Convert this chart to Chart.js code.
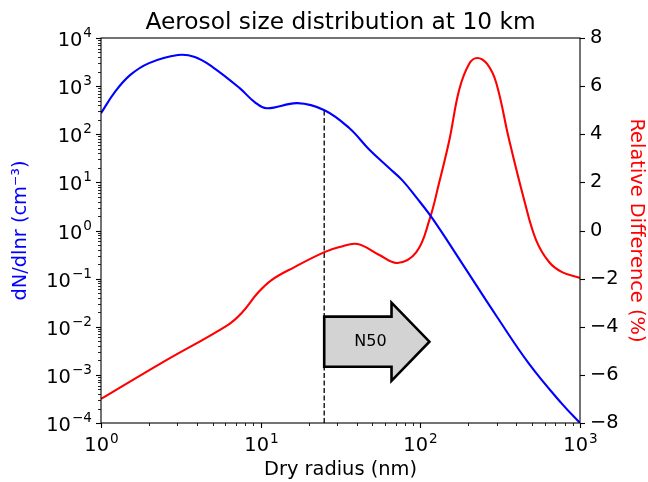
<!DOCTYPE html>
<html>
<head>
<meta charset="utf-8">
<script src="https://cdn.jsdelivr.net/npm/chart.js@4.4.1/dist/chart.umd.min.js"></script>
<style>
  body { margin: 0; background: #fff; }
  canvas { display: block; }
</style>
</head>
<body>
<canvas id="chart" width="648" height="482"></canvas>
<script>
// size distribution (blue, left log axis)
const radius_dist = [1, 1.22, 1.52, 2.0, 3.03, 3.87, 5.0, 7.39, 9.17, 10.9, 17.0, 25.1, 36.0, 48.0, 64.0, 77.2, 94.4, 119, 183, 299, 480, 772, 1000];
const dndlnr = [274, 750, 1690, 3010, 4430, 4020, 2490, 908, 466, 348, 443, 316, 133, 47.5, 19.6, 11.0, 4.87, 1.78, 0.205, 0.0169, 0.00169, 0.000249, 0.0001];

// relative difference (red, right axis)
const radius_diff = [1, 2.4, 6.22, 7.6, 9.58, 11.7, 16.3, 25.1, 31.2, 40.4, 55.4, 71.8, 94.4, 114, 131, 152, 175, 202, 227, 262, 299, 360, 447, 531, 640, 772, 1000];
const rel_diff = [-7.0, -5.5, -3.93, -3.43, -2.6, -2.06, -1.52, -0.9, -0.69, -0.56, -1.02, -1.35, -0.9, 0.44, 1.97, 3.76, 5.84, 6.92, 7.17, 6.92, 6.13, 3.76, 1.27, -0.4, -1.31, -1.73, -1.97];

// N50 cut and arrow (data units)
const n50_radius = 25;
const n50_top = 316;
const arrow_x = [25, 66, 66, 114, 66, 66, 25];
const arrow_y = [0.0162, 0.0162, 0.0316, 0.0049, 0.00075, 0.00148, 0.00148];
const arrow_label = "N50";
const arrow_label_pos = [48.7, 0.0049];

// tick labels
const x_ticks = [1, 10, 100, 1000];
const left_ticks = [1e-4, 1e-3, 1e-2, 1e-1, 1, 10, 100, 1000, 1e4];
const right_ticks = [-8, -6, -4, -2, 0, 2, 4, 6, 8];

const title_text = "Aerosol size distribution at 10 km";

const FONT = "'DejaVu Sans', sans-serif";
const FS = 19.4;       // 14pt
const FS_SUP = 13.6;   // mathtext superscript

const fixTicks = (list) => (scale) => {
    scale.ticks = list.map((v) => ({ value: v }));
};

// draws "10^e" like matplotlib mathtext
function drawPow(ctx, v, x, baseline, align) {
    const e = Math.round(Math.log10(v));
    const exp = e < 0 ? "\u2212" + Math.abs(e) : String(e);
    ctx.font = FS + "px " + FONT;
    const w1 = ctx.measureText("10").width;
    ctx.font = FS_SUP + "px " + FONT;
    const w2 = ctx.measureText(exp).width;
    const w = w1 + w2 + 1;
    let x0 = align === "center" ? x - w / 2 : x - w;
    ctx.textAlign = "left";
    ctx.textBaseline = "alphabetic";
    ctx.font = FS + "px " + FONT;
    ctx.fillText("10", x0, baseline);
    ctx.font = FS_SUP + "px " + FONT;
    ctx.fillText(exp, x0 + w1 + 1, baseline - 8.5);
}

// frame, ticks, log tick labels, title
const framePlugin = {
    id: "frame",
    afterDraw(chart) {
        const { ctx, chartArea: a, scales } = chart;
        ctx.save();
        ctx.strokeStyle = "#000";
        ctx.fillStyle = "#000";
        ctx.lineWidth = 1.1;
        ctx.strokeRect(a.left, a.top, a.right - a.left, a.bottom - a.top);

        const line = (x1, y1, x2, y2, w) => {
            ctx.lineWidth = w;
            ctx.beginPath();
            ctx.moveTo(x1, y1);
            ctx.lineTo(x2, y2);
            ctx.stroke();
        };

        // x axis ticks
        for (let e = 0; e < 3; e++) {
            for (let m = 2; m < 10; m++) {
                const px = Math.round(scales.x.getPixelForValue(m * Math.pow(10, e))) + 0.5;
                line(px, a.bottom, px, a.bottom + 3, 0.85);
            }
        }
        x_ticks.forEach((v) => {
            const px = Math.round(scales.x.getPixelForValue(v)) + 0.5;
            line(px, a.bottom, px, a.bottom + 5, 1.1);
            drawPow(ctx, v, px, a.bottom + 28, "center");
        });

        // left log axis ticks
        for (let e = -4; e < 4; e++) {
            for (let m = 2; m < 10; m++) {
                const py = Math.round(scales.y.getPixelForValue(m * Math.pow(10, e))) + 0.5;
                line(a.left, py, a.left - 3, py, 0.85);
            }
        }
        left_ticks.forEach((v) => {
            const py = Math.round(scales.y.getPixelForValue(v)) + 0.5;
            line(a.left, py, a.left - 5, py, 1.1);
            drawPow(ctx, v, a.left - 9, py + 7, "right");
        });

        // right linear axis ticks
        right_ticks.forEach((v) => {
            const py = Math.round(scales.y1.getPixelForValue(v)) + 0.5;
            line(a.right, py, a.right + 5, py, 1.1);
        });

        // title centred over the axes
        ctx.font = "23.3px " + FONT;
        ctx.textAlign = "center";
        ctx.textBaseline = "alphabetic";
        ctx.fillText(title_text, (a.left + a.right) / 2, 29);
        ctx.restore();
    },
};

// N50 arrow
const arrowPlugin = {
    id: "arrow",
    afterDatasetsDraw(chart) {
        const { ctx, scales } = chart;
        ctx.save();
        ctx.beginPath();
        arrow_x.forEach((xv, i) => {
            const px = scales.x.getPixelForValue(xv);
            const py = scales.y.getPixelForValue(arrow_y[i]);
            if (i === 0) ctx.moveTo(px, py);
            else ctx.lineTo(px, py);
        });
        ctx.closePath();
        ctx.fillStyle = "#d3d3d3";
        ctx.fill();
        ctx.lineWidth = 2.6;
        ctx.lineJoin = "miter";
        ctx.strokeStyle = "#000";
        ctx.stroke();

        ctx.fillStyle = "#000";
        ctx.font = "16px " + FONT;
        ctx.textAlign = "center";
        ctx.textBaseline = "middle";
        ctx.fillText(
            arrow_label,
            scales.x.getPixelForValue(arrow_label_pos[0]),
            scales.y.getPixelForValue(arrow_label_pos[1])
        );
        ctx.restore();
    },
};

new Chart(document.getElementById("chart"), {
    type: "line",
    data: {
        datasets: [
            {
                data: radius_dist.map((r, i) => ({ x: r, y: dndlnr[i] })),
                borderColor: "#0000ff",
                borderWidth: 2.1,
                pointRadius: 0,
                tension: 0.4,
                yAxisID: "y",
            },
            {
                data: radius_diff.map((r, i) => ({ x: r, y: rel_diff[i] })),
                borderColor: "#ff0000",
                borderWidth: 2.1,
                pointRadius: 0,
                tension: 0.4,
                yAxisID: "y1",
            },
            {
                data: [
                    { x: n50_radius, y: 1e-4 },
                    { x: n50_radius, y: n50_top },
                ],
                borderColor: "#000",
                borderWidth: 1.3,
                borderDash: [5, 2.5],
                pointRadius: 0,
                yAxisID: "y",
            },
        ],
    },
    options: {
        responsive: false,
        animation: false,
        layout: { padding: { top: 38 } },
        plugins: {
            legend: { display: false },
            tooltip: { enabled: false },
            title: { display: false },
        },
        scales: {
            x: {
                type: "logarithmic",
                min: 1,
                max: 1000,
                afterBuildTicks: fixTicks(x_ticks),
                afterFit: (s) => { s.height = 59; },
                grid: { display: false, drawTicks: false },
                border: { display: false },
                ticks: { autoSkip: false, maxRotation: 0, callback: () => "" },
                title: {
                    display: true,
                    text: "Dry radius (nm)",
                    color: "#000",
                    font: { family: FONT, size: FS },
                    padding: { top: 0, bottom: 0 },
                },
            },
            y: {
                type: "logarithmic",
                position: "left",
                min: 1e-4,
                max: 1e4,
                afterBuildTicks: fixTicks(left_ticks),
                afterFit: (s) => { s.width = 101; },
                grid: { display: false, drawTicks: false },
                border: { display: false },
                ticks: { autoSkip: false, callback: () => "" },
                title: {
                    display: true,
                    text: "dN/dlnr (cm\u207B\u00B3)",
                    color: "#0000ff",
                    font: { family: FONT, size: FS },
                    padding: { top: 9, bottom: 0 },
                },
            },
            y1: {
                type: "linear",
                position: "right",
                min: -8,
                max: 8,
                afterBuildTicks: fixTicks(right_ticks),
                afterFit: (s) => { s.width = 68; },
                grid: { display: false, drawTicks: false },
                border: { display: false },
                ticks: {
                    color: "#000",
                    font: { family: FONT, size: FS },
                    padding: 10,
                    autoSkip: false,
                    callback: (v) => (v < 0 ? "\u2212" + Math.abs(v) : String(v)),
                },
                title: {
                    display: true,
                    text: "Relative Difference (%)",
                    color: "#ff0000",
                    font: { family: FONT, size: FS },
                    padding: { top: 0, bottom: 0 },
                },
            },
        },
    },
    plugins: [framePlugin, arrowPlugin],
});
</script>
</body>
</html>
